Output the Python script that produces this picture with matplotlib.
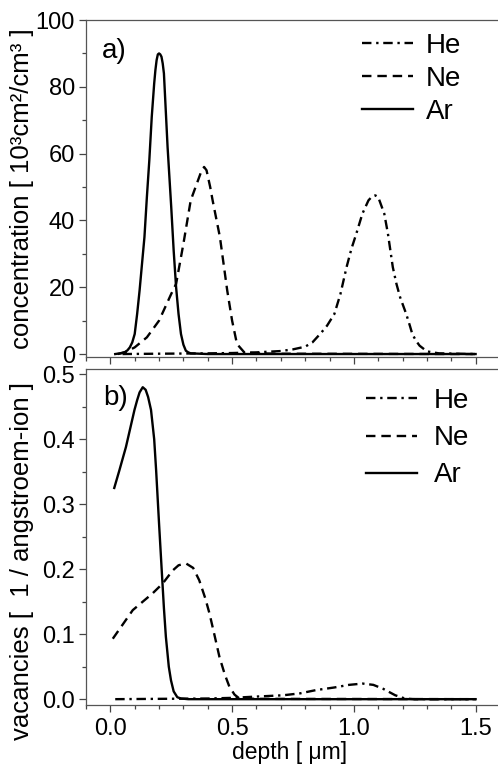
import matplotlib
matplotlib.use("Agg")
import matplotlib.pyplot as plt
from matplotlib.ticker import MultipleLocator, FormatStrFormatter

plt.rcParams['font.family'] = ['Liberation Sans', 'DejaVu Sans']

# a) concentration profiles
he_a_x = [0.05, 0.2, 0.4, 0.5, 0.6, 0.7, 0.75, 0.8, 0.83, 0.865, 0.89, 0.92, 0.945, 0.97,
          0.99, 1.01, 1.035, 1.06, 1.075, 1.088, 1.10, 1.11, 1.125, 1.14, 1.16, 1.175, 1.19,
          1.215, 1.23, 1.24, 1.255, 1.27, 1.30, 1.35, 1.5]
he_a_y = [0, 0.1, 0.2, 0.3, 0.5, 0.9, 1.4, 2.2, 3.5, 6.3, 8.5, 12, 18, 26,
          31.5, 36, 42, 46, 47.2, 47.5, 47, 45, 42, 36, 26, 21, 17,
          12, 8.5, 6, 4, 2.5, 0.8, 0.2, 0]
ne_a_x = [0.03, 0.06, 0.10, 0.15, 0.20, 0.25, 0.27, 0.30, 0.33, 0.36, 0.375, 0.385, 0.395,
          0.41, 0.42, 0.45, 0.48, 0.50, 0.52, 0.55, 0.60, 0.70, 1.5]
ne_a_y = [0, 0.5, 2, 5, 10, 18, 21, 33, 46, 52, 55, 56, 55,
          50, 46, 35, 19, 10, 3, 0.5, 0.2, 0.1, 0]
ar_a_x = [0.02, 0.04, 0.06, 0.07, 0.08, 0.09, 0.10, 0.11, 0.12, 0.13, 0.14, 0.15, 0.16,
          0.17, 0.18, 0.185, 0.19, 0.195, 0.20, 0.205, 0.21, 0.215, 0.22, 0.235, 0.245,
          0.25, 0.26, 0.27, 0.28, 0.29, 0.30, 0.31, 0.32, 0.33, 0.40, 1.50]
ar_a_y = [0, 0.2, 0.6, 1.1, 2, 3.5, 6, 12, 19, 27, 35, 47, 58,
          71, 81, 85, 88, 89.7, 90, 89.7, 89, 87, 84, 62, 50,
          44, 31, 20, 12, 6, 2.8, 1, 0.5, 0.2, 0, 0]

# b) vacancy profiles
he_b_x = [0.02, 0.2, 0.4, 0.5, 0.6, 0.71, 0.78, 0.845, 0.92, 0.98, 1.036, 1.08, 1.12, 1.15,
          1.17, 1.21, 1.25, 1.5]
he_b_y = [0, 0.0005, 0.001, 0.002, 0.004, 0.006, 0.009, 0.014, 0.018, 0.022, 0.024, 0.022,
          0.016, 0.010, 0.006, 0.001, 0, 0]
ne_b_x = [0.01, 0.092, 0.174, 0.215, 0.256, 0.28, 0.31, 0.34, 0.365, 0.39, 0.407, 0.428,
          0.448, 0.47, 0.489, 0.51, 0.53, 0.6, 1.5]
ne_b_y = [0.093, 0.137, 0.163, 0.178, 0.198, 0.206, 0.209, 0.202, 0.183, 0.155, 0.132, 0.098,
          0.065, 0.038, 0.019, 0.007, 0.001, 0.0005, 0]
ar_b_x = [0.016, 0.037, 0.064, 0.099, 0.11, 0.12, 0.133, 0.145, 0.155, 0.167, 0.18, 0.188,
          0.20, 0.211, 0.22, 0.228, 0.24, 0.249, 0.26, 0.275, 0.29, 0.32, 1.5]
ar_b_y = [0.325, 0.352, 0.388, 0.445, 0.460, 0.472, 0.48, 0.476, 0.465, 0.445, 0.40, 0.352,
          0.27, 0.198, 0.140, 0.096, 0.05, 0.029, 0.012, 0.003, 0.001, 0, 0]

LW = 1.7
DASH = (4, 2.5)
DASHDOT = (4, 2, 1, 2)

fig = plt.figure(figsize=(4.98, 7.64), dpi=100)
ax1 = fig.add_axes([0.1727, 0.5331, 0.841, 0.4407])
ax2 = fig.add_axes([0.1727, 0.0772, 0.841, 0.4398])


def style(ax):
    for s in ax.spines.values():
        s.set_color('#555555')
        s.set_linewidth(0.9)
    ax.spines['right'].set_visible(False)
    ax.tick_params(which='both', direction='out', colors='#444444', labelcolor='black',
                   top=False, right=False, labelsize=17)
    ax.tick_params(axis='y', pad=3)
    ax.tick_params(axis='x', pad=4)
    ax.tick_params(which='major', length=5, width=0.9)
    ax.tick_params(which='minor', length=3, width=0.9)
    ax.xaxis.set_major_locator(MultipleLocator(0.5))
    ax.xaxis.set_minor_locator(MultipleLocator(0.1))
    ax.set_xlim(-0.1, 1.62)


# top panel
ax1.plot(he_a_x, he_a_y, color='black', lw=LW, dashes=DASHDOT, label='He')
ax1.plot(ne_a_x, ne_a_y, color='black', lw=LW, dashes=DASH, label='Ne')
ax1.plot(ar_a_x, ar_a_y, color='black', lw=LW, label='Ar')
style(ax1)
ax1.set_ylim(-0.8, 100)
ax1.yaxis.set_major_locator(MultipleLocator(20))
ax1.yaxis.set_minor_locator(MultipleLocator(10))
ax1.tick_params(axis='x', labelbottom=False)
ax1.set_ylabel('concentration [ 10³cm²/cm³ ]', fontsize=18.5)
ax1.yaxis.set_label_coords(-0.125, 0.5)
ax1.text(0.038, 0.887, 'a)', transform=ax1.transAxes, fontsize=20)
ax1.legend(loc='upper left', bbox_to_anchor=(0.659, 0.961), frameon=False, fontsize=20,
           borderpad=0, borderaxespad=0, handlelength=1.85, handletextpad=0.45,
           labelspacing=0.25)

# bottom panel
ax2.plot(he_b_x, he_b_y, color='black', lw=LW, dashes=DASHDOT, label='He')
ax2.plot(ne_b_x, ne_b_y, color='black', lw=LW, dashes=DASH, label='Ne')
ax2.plot(ar_b_x, ar_b_y, color='black', lw=LW, label='Ar')
style(ax2)
ax2.set_ylim(-0.009, 0.508)
ax2.yaxis.set_major_locator(MultipleLocator(0.1))
ax2.yaxis.set_minor_locator(MultipleLocator(0.05))
ax2.yaxis.set_major_formatter(FormatStrFormatter('%.1f'))
ax2.xaxis.set_major_formatter(FormatStrFormatter('%.1f'))
ax2.set_ylabel('vacancies [  1 / angstroem-ion ]', fontsize=18.5)
ax2.yaxis.set_label_coords(-0.125, 0.43)
ax2.set_xlabel('depth [ μm]', fontsize=16.5)
ax2.xaxis.set_label_coords(0.487, -0.106)
ax2.text(0.04, 0.893, 'b)', transform=ax2.transAxes, fontsize=20)
ax2.legend(loc='upper left', bbox_to_anchor=(0.668, 0.943), frameon=False, fontsize=20,
           borderpad=0, borderaxespad=0, handlelength=1.85, handletextpad=0.6,
           labelspacing=0.4)

fig.savefig('out.png', dpi=100)
